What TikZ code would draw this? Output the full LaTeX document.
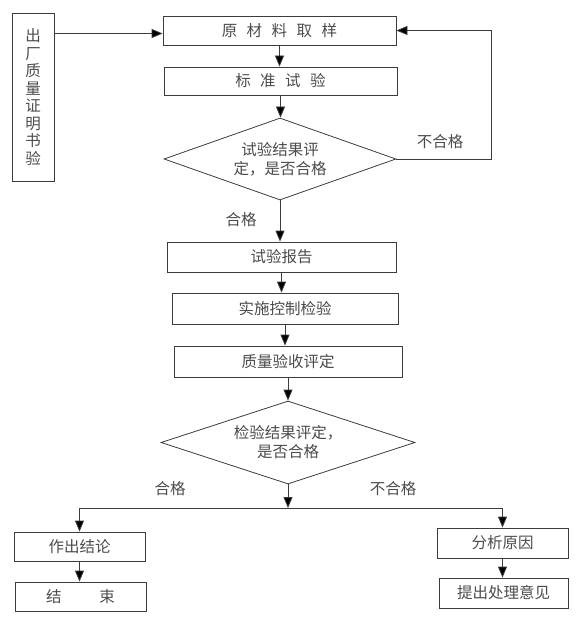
\documentclass[tikz,border=0pt]{standalone}
\usepackage{fontspec}
\setmainfont{Noto Sans CJK SC}
\usepackage{tikz}
\usetikzlibrary{shapes.geometric,arrows.meta}
\definecolor{txtgray}{RGB}{75,75,75}
\definecolor{linegray}{RGB}{60,60,60}

\begin{document}
\begin{tikzpicture}[x=1pt,y=-1pt,
            box/.style={rectangle,draw=linegray,line width=0.8pt,text=txtgray,inner sep=0pt,font=\fontsize{15.5}{19}\selectfont},
            dec/.style={diamond,draw=linegray,line width=0.8pt,text=txtgray,inner sep=0pt,align=center,font=\fontsize{15.5}{19}\selectfont},
            arr/.style={draw=linegray,line width=0.8pt,-{Triangle[length=11pt,width=9pt,fill=black]}},
            lbl/.style={text=txtgray,font=\fontsize{15.5}{19}\selectfont}]
            \useasboundingbox (0,0) rectangle (575,620);
            \node[box,minimum width=42pt,minimum height=168pt,align=center,font=\fontsize{15.5}{17.5}\selectfont] (cert) at (33,97) {出\\厂\\质\\量\\证\\明\\书\\验};
            \node[box,minimum width=233pt,minimum height=29pt] (sample) at (279.5,30.5) {原\hspace{9.5pt}材\hspace{9.5pt}料\hspace{9.5pt}取\hspace{9.5pt}样};
            \node[box,minimum width=233pt,minimum height=28pt] (stdtest) at (280.5,81) {标\hspace{9.5pt}准\hspace{9.5pt}试\hspace{9.5pt}验};
            \node[dec,minimum width=232pt,minimum height=82pt,aspect=2.83] (judge1) at (280,159) {试验结果评\\定，是否合格};
            \node[box,minimum width=229pt,minimum height=30pt] (report) at (281.5,257) {试验报告};
            \node[box,minimum width=226pt,minimum height=31pt] (control) at (285,308.5) {实施控制检验};
            \node[box,minimum width=228pt,minimum height=31pt] (accept) at (288,361.5) {质量验收评定};
            \node[dec,minimum width=254pt,minimum height=83pt,aspect=3.06] (judge2) at (288,442.5) {检验结果评定，\\是否合格};
            \node[box,minimum width=131pt,minimum height=29pt] (concl) at (79.5,546.5) {作出结论};
            \node[box,minimum width=131pt,minimum height=29pt] (finish) at (80.5,596.5) {结\hspace{38pt}束};
            \node[box,minimum width=131pt,minimum height=30pt] (cause) at (502.5,543) {分析原因};
            \node[box,minimum width=129pt,minimum height=30pt] (advice) at (503.5,593) {提出处理意见};
            \coordinate (loop) at (491,159);
            \coordinate (fork) at (288,508);
            \node[lbl] (fail1) at (440,142) {不合格};
            \node[lbl] (pass1) at (241,220) {合格};
            \node[lbl] (pass2) at (170,489) {合格};
            \node[lbl] (fail2) at (393,489) {不合格};
            \draw[arr] ([yshift=-3pt]sample.west -| cert.east) -- ([yshift=-3pt]sample.west);
            \draw[arr] (sample.south) -- (sample.south |- stdtest.north);
            \draw[arr] (stdtest.south) -- (stdtest.south |- judge1.north);
            \draw[arr] (judge1.east) -- (loop) |- (sample.east);
            \draw[arr] (judge1.south) -- (judge1.south |- report.north);
            \draw[arr] (report.south) -- (report.south |- control.north);
            \draw[arr] (control.south) -- (control.south |- accept.north);
            \draw[arr] (accept.south) -- (accept.south |- judge2.north);
            \draw[arr] (judge2.south) -- (fork);
            \draw[draw=linegray,line width=0.8pt] (fork -| concl.north) -- (fork -| cause.north);
            \draw[arr] (fork -| concl.north) -- (concl.north);
            \draw[arr] (fork -| cause.north) -- (cause.north);
            \draw[arr] (concl.south) -- (concl.south |- finish.north);
            \draw[arr] (cause.south) -- (cause.south |- advice.north);
        \end{tikzpicture}
\end{document}
